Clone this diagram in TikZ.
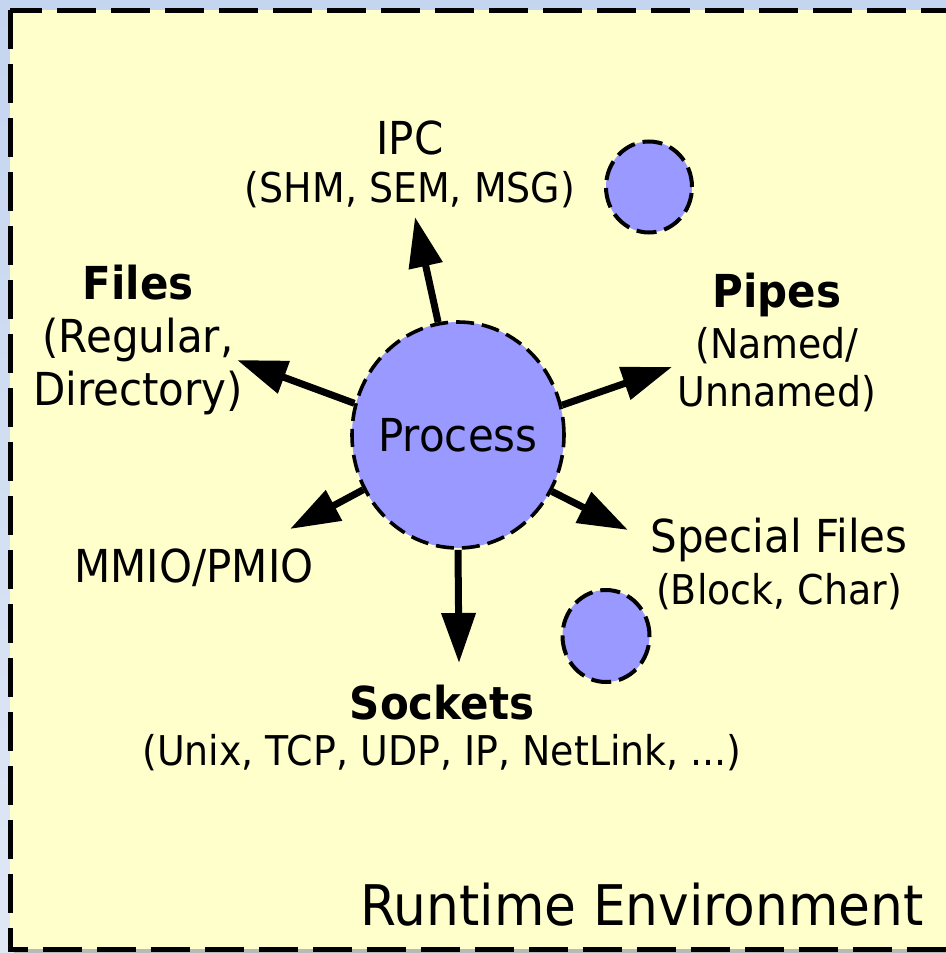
\documentclass[tikz,border=0pt]{standalone}
\usepackage{fontspec}
\setmainfont{DejaVu Sans}[FakeStretch=0.925]
\usetikzlibrary{arrows.meta,shapes.geometric}

\definecolor{skyback}{HTML}{C4D5F0}
\definecolor{skyfade}{HTML}{E0E8F5}
\definecolor{envyellow}{HTML}{FFFFCC}
\definecolor{procblue}{HTML}{9999FF}

\tikzset{
  arr/.style={-{Triangle[length=25pt,width=16.5pt]}, line width=3.5pt},
  mainlbl/.style={font=\fontsize{22.7pt}{27pt}\selectfont, inner sep=0pt},
  boldlbl/.style={font=\fontsize{22.7pt}{27pt}\selectfont\bfseries, inner sep=0pt},
  sublbl/.style={font=\fontsize{20.5pt}{24pt}\selectfont, inner sep=0pt},
  blob/.style={ellipse, fill=procblue, draw=black, line width=2pt,
    dash pattern=on 10pt off 4pt, inner sep=0pt}
}

\begin{document}
\begin{tikzpicture}[x=0.5pt, y=-0.5pt]
\useasboundingbox (0,0) rectangle (946,953);
\shade[top color=skyback, bottom color=skyfade] (0,0) rectangle (946,953);

% runtime environment box
\fill[gray!55] (14,14) rectangle (954,953);
\draw[fill=envyellow, line width=2.5pt, dash pattern=on 19.5pt off 7.5pt]
  (10,10) rectangle (950,949);
\node[font=\fontsize{28pt}{32pt}\selectfont, inner sep=0pt] (env) at (642,905) {Runtime Environment};

% the process in the middle
\node[ellipse, fill=procblue, draw=black, line width=1.8pt, dash pattern=on 9pt off 4pt,
  minimum width=106pt, minimum height=113pt, inner sep=0pt] (proc) at (458,435) {};
\node[mainlbl] (proclbl) at (458,435) {Process};

% other processes
\node[blob, minimum width=43pt, minimum height=45.5pt] (otherA) at (649,187) {};
\node[blob, minimum width=43.5pt, minimum height=46pt] (otherB) at (606,636) {};

% labels
\node[mainlbl] (ipc) at (410,138) {IPC};
\node[sublbl] (ipcsub) at (410,190) {(SHM, SEM, MSG)};
\node[boldlbl] (files) at (138,283) {Files};
\node[mainlbl] (filesA) at (138,340) {(Regular,};
\node[mainlbl] (filesB) at (138,393) {Directory)};
\node[boldlbl] (pipes) at (777,295) {Pipes};
\node[sublbl] (pipesA) at (777,346) {(Named/};
\node[sublbl] (pipesB) at (777,394) {Unnamed)};
\node[mainlbl] (mmio) at (194,568) {MMIO/PMIO};
\node[mainlbl] (special) at (779,540) {Special Files};
\node[sublbl] (specialsub) at (779,592) {(Block, Char)};
\node[boldlbl] (sockets) at (442,703) {Sockets};
\node[sublbl] (socketssub) at (442,753) {(Unix, TCP, UDP, IP, NetLink, ...)};

% arrow tips
\coordinate (ipctip) at (415,217);
\coordinate (filestip) at (237,360);
\coordinate (pipestip) at (672,367);
\coordinate (mmiotip) at (290,529);
\coordinate (specialtip) at (628,530);
\coordinate (socketstip) at (459,663);

\draw[arr] (proc.100) -- (ipctip);
\draw[arr] (proc.163) -- (filestip);
\draw[arr] (proc.16) -- (pipestip);
\draw[arr] (proc.210) -- (mmiotip);
\draw[arr] (proc.329) -- (specialtip);
\draw[arr] (proc.south) -- (socketstip);
\end{tikzpicture}
\end{document}
